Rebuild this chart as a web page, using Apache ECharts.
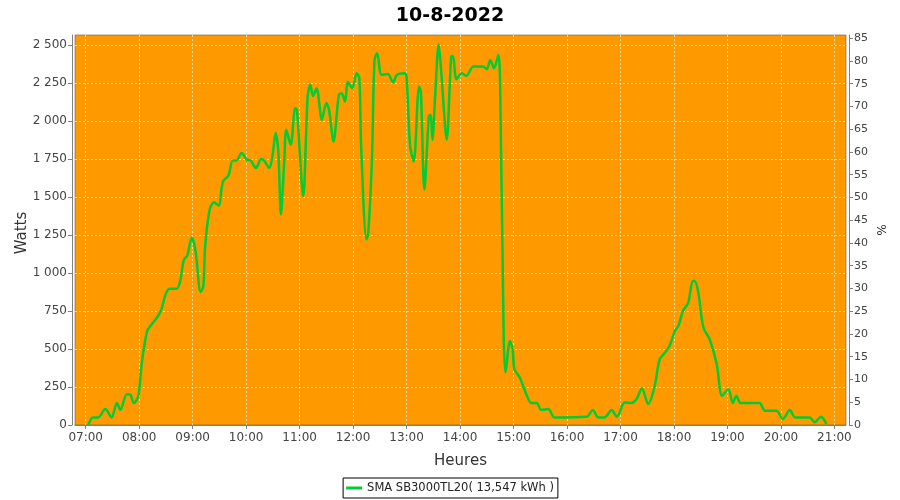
<!DOCTYPE html>
<html>
<head>
<meta charset="utf-8">
<script src="https://cdn.jsdelivr.net/npm/echarts@6/dist/echarts.min.js"></script>
<style>html,body{margin:0;padding:0;background:#fff}#c{width:900px;height:500px}</style>
</head>
<body>
<div id="c"></div>
<script>
// Time of day (HH:MM) and power (W)
const times = ['07:03','07:08','07:14','07:22','07:29','07:35','07:39','07:46','07:50','07:54','07:59',
 '08:03','08:09','08:14','08:20','08:25','08:29','08:34','08:42','08:46','08:50','08:54','08:59',
 '09:03','09:09','09:12','09:14','09:19','09:24','09:29','09:34','09:40','09:45','09:49','09:55',
 '10:01','10:05','10:11','10:17','10:20','10:26','10:30','10:33','10:36','10:39','10:43','10:45','10:50','10:55','10:57',
 '11:04','11:09','11:12','11:15','11:19','11:25','11:30','11:33','11:38','11:44','11:47','11:51','11:54','11:59',
 '12:04','12:07','12:09','12:15','12:17','12:21','12:24','12:27','12:32','12:39','12:45','12:49','12:58',
 '13:00','13:04','13:08','13:14','13:16','13:20','13:25','13:27','13:29','13:32','13:36','13:39','13:45','13:50','13:52','13:56',
 '14:02','14:07','14:15','14:26','14:30','14:34','14:38','14:43','14:45','14:49','14:51','14:56','14:59','15:01','15:07','15:15','15:20','15:26','15:31','15:39','15:46',
 '16:22','16:29','16:35','16:42','16:50','16:56','17:05','17:12','17:18','17:24','17:31','17:38','17:44','17:50','17:55','18:01','18:05','18:10','18:16','18:21','18:23','18:27','18:33','18:40','18:48','18:54','19:01','19:06','19:10','19:15',
 '19:36','19:42','19:55','20:02','20:10','20:16','20:32','20:38','20:45','20:51'];
const watts = [0,50,50,105,50,144,100,203,200,144,190,
 413,619,663,707,761,849,897,897,947,1085,1116,1232,
 1155,875,914,1177,1417,1465,1444,1603,1640,1741,1741,1790,
 1745,1741,1691,1750,1741,1691,1790,1921,1811,1385,1767,1942,1844,2085,2074,
 1505,2161,2238,2165,2216,2008,2118,2074,1866,2172,2183,2128,2259,2216,
 2314,2281,1833,1221,1264,1724,2402,2446,2303,2310,2253,2303,2314,
 2292,1833,1734,2227,2194,1549,2030,2041,1877,2161,2505,2314,1877,2424,2428,2275,
 2314,2297,2358,2358,2341,2402,2347,2434,2216,564,346,553,499,367,313,192,144,144,100,105,50,
 55,98,50,50,98,55,149,144,171,241,138,247,433,477,520,619,652,750,805,947,947,881,641,564,400,192,236,144,192,144,
 144,94,94,39,98,50,50,18,55,7];
const hourTicks = ['07:00','08:00','09:00','10:00','11:00','12:00','13:00','14:00','15:00','16:00','17:00','18:00','19:00','20:00','21:00'];
const wattTicks = [0,250,500,750,1000,1250,1500,1750,2000,2250,2500];
const pctTicks = [0,5,10,15,20,25,30,35,40,45,50,55,60,65,70,75,80,85];
const seriesName = 'SMA SB3000TL20( 13,547 kWh )';
const title = '10-8-2022';
const leftName = 'Watts', rightName = '%', bottomName = 'Heures';

const toMin = s => { const p = s.split(':'); return +p[0]*60 + +p[1]; };
const fmtMin = v => { const h = Math.floor(v/60), m = Math.round(v%60); return String(h).padStart(2,'0')+':'+String(m).padStart(2,'0'); };
const fmtW = v => v >= 1000 ? Math.floor(v/1000) + ' ' + String(v%1000).padStart(3,'0') : String(v);
const data = times.map((t,i) => [toMin(t), watts[i]]);
const hourVals = hourTicks.map(toMin);

const FONT = 'DejaVu Sans';
const axisLineStyle = {show:true, lineStyle:{color:'#808080', width:1}};
const chart = echarts.init(document.getElementById('c'), null, {renderer:'canvas'});
chart.setOption({
  animation:false,
  backgroundColor:'#ffffff',
  textStyle:{fontFamily:FONT},
  title:{text:title, left:'center', top:2, textStyle:{fontFamily:FONT, fontSize:19, fontWeight:'bold', color:'#000'}},
  grid:{left:75, right:54, top:35, bottom:75, show:true, backgroundColor:'#FF9900', borderColor:'rgba(110,90,70,0.6)', borderWidth:1, containLabel:false},
  legend:{bottom:2, left:'center', data:[seriesName], borderColor:'#000', borderWidth:1, padding:[4,4,4,3],
    itemWidth:16, itemHeight:3, icon:'rect', textStyle:{fontFamily:FONT, fontSize:11.5, color:'#222'}},
  graphic:[
    {type:'text', x:22, y:233, rotation:Math.PI/2, style:{text:leftName, fontFamily:FONT, fontSize:15, fill:'#333', align:'center', verticalAlign:'middle'}},
    {type:'text', x:880, y:230, rotation:-Math.PI/2, style:{text:rightName, fontFamily:FONT, fontSize:12, fill:'#333', align:'center', verticalAlign:'middle'}}
  ],
  xAxis:{type:'value', min:408, max:1273, offset:3,
    name:bottomName, nameLocation:'middle', nameGap:26, nameTextStyle:{fontFamily:FONT, fontSize:15, color:'#333'},
    axisLine:axisLineStyle,
    axisTick:{show:true, length:4, customValues:hourVals, lineStyle:{color:'#808080'}},
    axisLabel:{customValues:hourVals, formatter:fmtMin, fontFamily:FONT, fontSize:12, color:'#444', margin:4},
    splitLine:{show:true, lineStyle:{color:'rgba(255,255,255,0.65)', type:[2,2], width:1}}},
  yAxis:[
    {type:'value', min:0, max:2566, offset:3, position:'left',
     axisLine:axisLineStyle,
     axisTick:{show:true, length:4, customValues:wattTicks, lineStyle:{color:'#808080'}},
     axisLabel:{customValues:wattTicks, formatter:fmtW, fontFamily:FONT, fontSize:12, color:'#444', margin:5},
     splitLine:{show:true, lineStyle:{color:'rgba(255,255,255,0.65)', type:[2,2], width:1}}},
    {type:'value', min:0, max:85.7, offset:3, position:'right',
     axisLine:axisLineStyle,
     axisTick:{show:true, length:4, customValues:pctTicks, lineStyle:{color:'#808080'}},
     axisLabel:{customValues:pctTicks, fontFamily:FONT, fontSize:11, color:'#444', margin:5},
     splitLine:{show:false}}
  ],
  series:[{name:seriesName, type:'line', yAxisIndex:0, data:data, showSymbol:false, symbol:'none',
    smooth:0.3, lineStyle:{color:'#00CC33', width:2.5}, itemStyle:{color:'#00CC33'}}]
});
</script>
</body>
</html>
